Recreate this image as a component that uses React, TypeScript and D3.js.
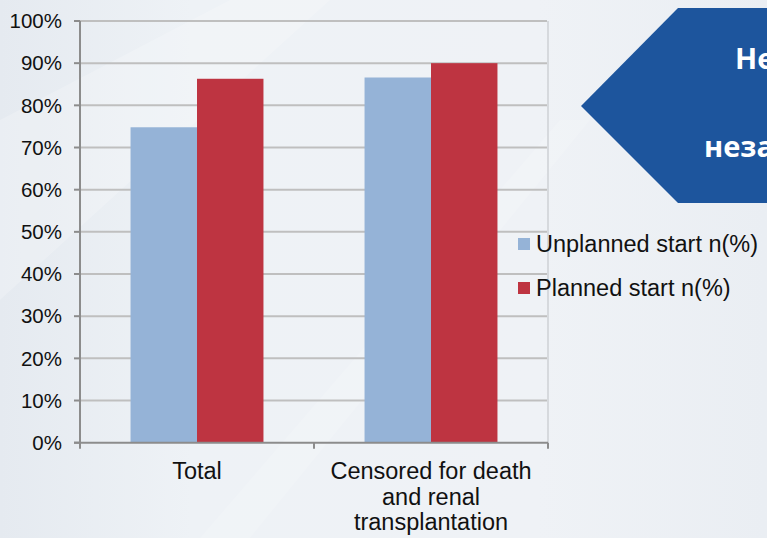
import React, {useEffect, useRef} from "react";
import * as d3 from "d3";

const categories = ["Total", "Censored for death and renal transplantation"];
const categoryLines = [["Total"], ["Censored for death", "and renal", "transplantation"]];
const seriesNames = ["Unplanned start n(%)", "Planned start n(%)"];
const unplanned = [74.8, 86.6];
const planned = [86.3, 90.0];
const yTicks = [0, 10, 20, 30, 40, 50, 60, 70, 80, 90, 100];
const colors = ["#95b3d7", "#be3441"];

const W = 767;
const H = 538;

const App: React.FC = () => {
	const svgRef = useRef<SVGSVGElement>(null);

	useEffect(() => {
		const svg = d3.select(svgRef.current);
		svg.selectAll("*").remove();

		// Background
		const defs = svg.append("defs");
		const grad = defs
			.append("linearGradient")
			.attr("id", "bg")
			.attr("x1", "0")
			.attr("y1", "0")
			.attr("x2", "1")
			.attr("y2", "0");
		grad.append("stop").attr("offset", "0").attr("stop-color", "#e5eaf0");
		grad.append("stop").attr("offset", "0.25").attr("stop-color", "#eef2f6");
		grad.append("stop").attr("offset", "0.7").attr("stop-color", "#eff2f6");
		grad.append("stop").attr("offset", "1").attr("stop-color", "#eaeef3");
		svg.append("rect").attr("width", W).attr("height", H).attr("fill", "url(#bg)");

		svg
			.append("path")
			.attr("d", "M0,120 L230,0 L330,0 L0,300 Z")
			.attr("fill", "#ffffff")
			.attr("opacity", 0.2);
		svg
			.append("path")
			.attr("d", "M200,538 L560,120 L590,120 L250,538 Z")
			.attr("fill", "#ffffff")
			.attr("opacity", 0.15);

		// Blue arrow panel
		svg
			.append("path")
			.attr("d", "M678,8 L767,8 L767,203 L678,203 L581,106 Z")
			.attr("fill", "#1d559d");
		svg
			.append("text")
			.attr("x", 735)
			.attr("y", 69)
			.style("font-family", "'Open Sans', sans-serif")
			.style("font-weight", "bold")
			.style("font-size", "29px")
			.style("fill", "#ffffff")
			.text("Не");
		svg
			.append("text")
			.attr("x", 704)
			.attr("y", 157)
			.style("font-family", "'Open Sans', sans-serif")
			.style("font-weight", "bold")
			.style("font-size", "29px")
			.style("fill", "#ffffff")
			.text("неза");

		const left = 80;
		const right = 548;
		const top = 21;
		const bottom = 442.7;

		const x0 = d3.scaleBand().domain(categories).range([left, right]).paddingInner(0.432).paddingOuter(0.216);
		const x1 = d3.scaleBand().domain(seriesNames).range([0, x0.bandwidth()]);
		const y = d3.scaleLinear().domain([0, 100]).range([bottom, top]);

		const font = "'Liberation Sans', Arial, sans-serif";

		// Grid lines
		svg
			.append("g")
			.selectAll("line")
			.data(yTicks.filter((d) => d > 0))
			.enter()
			.append("line")
			.attr("x1", left)
			.attr("x2", right - 1)
			.attr("y1", (d) => y(d))
			.attr("y2", (d) => y(d))
			.attr("stroke", "#bfbfbf")
			.attr("stroke-width", 2);

		// plot area right border
		svg
			.append("line")
			.attr("x1", right)
			.attr("x2", right)
			.attr("y1", top)
			.attr("y2", bottom)
			.attr("stroke", "#d6d9dd")
			.attr("stroke-width", 2);

		// Bars
		const groups = svg
			.append("g")
			.selectAll("g")
			.data(categories)
			.enter()
			.append("g")
			.attr("transform", (d) => `translate(${x0(d)},0)`);

		groups
			.selectAll("rect")
			.data((_, i) => [unplanned[i], planned[i]].map((v, k) => ({v, k})))
			.enter()
			.append("rect")
			.attr("x", (d) => x1(seriesNames[d.k]) as number)
			.attr("width", x1.bandwidth())
			.attr("y", (d) => y(d.v))
			.attr("height", (d) => bottom - y(d.v))
			.attr("fill", (d) => colors[d.k]);

		// Y axis
		const yAxis = svg.append("g");
		yAxis
			.append("line")
			.attr("x1", left)
			.attr("x2", left)
			.attr("y1", top)
			.attr("y2", bottom)
			.attr("stroke", "#8c8c8c")
			.attr("stroke-width", 2);
		yAxis
			.selectAll(".tick")
			.data(yTicks)
			.enter()
			.append("line")
			.attr("x1", left - 6)
			.attr("x2", left)
			.attr("y1", (d) => y(d))
			.attr("y2", (d) => y(d))
			.attr("stroke", "#8c8c8c")
			.attr("stroke-width", 2);
		yAxis
			.selectAll("text")
			.data(yTicks)
			.enter()
			.append("text")
			.attr("x", 62)
			.attr("y", (d) => y(d))
			.attr("dy", "0.35em")
			.attr("text-anchor", "end")
			.style("font-family", font)
			.style("font-size", "20.5px")
			.style("fill", "#111111")
			.text((d) => `${d}%`);

		// X axis
		const xAxis = svg.append("g");
		xAxis
			.append("line")
			.attr("x1", left - 6)
			.attr("x2", right)
			.attr("y1", bottom)
			.attr("y2", bottom)
			.attr("stroke", "#8c8c8c")
			.attr("stroke-width", 2);
		const boundaries = [left, ...categories.map((c) => (x0(c) as number) + x0.bandwidth() + (x0.step() - x0.bandwidth()) / 2)];
		xAxis
			.selectAll(".xt")
			.data(boundaries)
			.enter()
			.append("line")
			.attr("x1", (d) => d)
			.attr("x2", (d) => d)
			.attr("y1", bottom)
			.attr("y2", bottom + 6)
			.attr("stroke", "#8c8c8c")
			.attr("stroke-width", 2);

		const labels = xAxis
			.selectAll(".xl")
			.data(categories)
			.enter()
			.append("text")
			.attr("text-anchor", "middle")
			.style("font-family", font)
			.style("font-size", "23.5px")
			.style("fill", "#111111");
		labels
			.selectAll("tspan")
			.data((d, i) => categoryLines[i].map((line) => ({line, c: d})))
			.enter()
			.append("tspan")
			.attr("x", (d) => (x0(d.c) as number) + x0.bandwidth() / 2)
			.attr("y", (_, j) => 479 + j * 25.5)
			.text((d) => d.line);

		// Legend
		const legend = svg.append("g").attr("transform", "translate(518, 238)");
		const items = legend
			.selectAll("g")
			.data(seriesNames)
			.enter()
			.append("g")
			.attr("transform", (_, i) => `translate(0, ${i * 44})`);
		items
			.append("rect")
			.attr("width", 12)
			.attr("height", 12)
			.attr("fill", (_, i) => colors[i]);
		items
			.append("text")
			.attr("x", 18)
			.attr("y", 14)
			.style("font-family", font)
			.style("font-size", "23.5px")
			.style("fill", "#111111")
			.text((d) => d);
	}, []);

	return (
		<svg
			ref={svgRef}
			width={W}
			height={H}
			style={{position: "absolute", left: 0, top: 0, display: "block"}}
		/>
	);
};

export default App;
